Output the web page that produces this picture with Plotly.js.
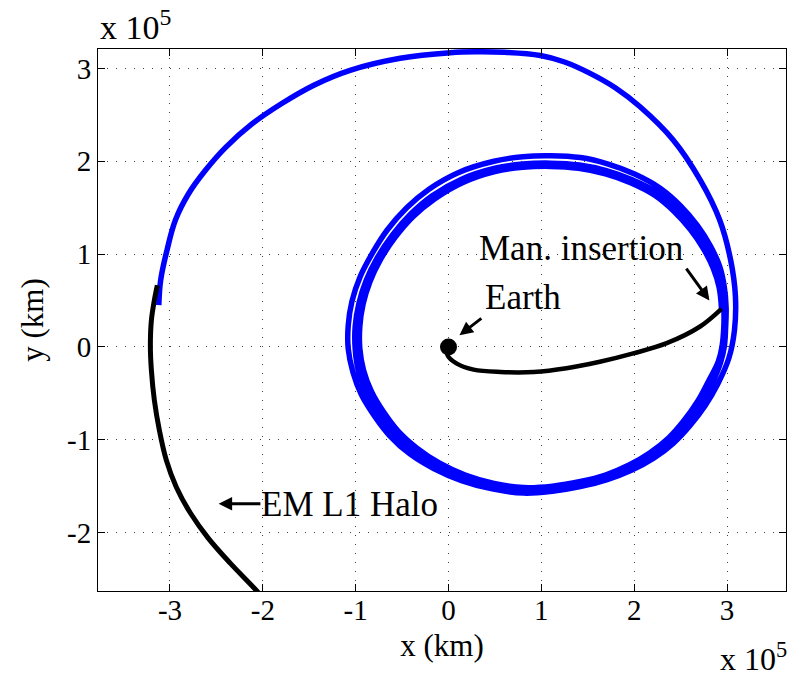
<!DOCTYPE html>
<html>
<head>
<meta charset="utf-8">
<script src="https://cdn.plot.ly/plotly-3.0.1.min.js"></script>
<style>html,body{margin:0;padding:0;background:#fff;}#chart{width:797px;height:676px;}</style>
</head>
<body>
<div id="chart"></div>
<script>
// Units: 10^5 km
var haloX = [-2.005, -2.062, -2.351, -2.588, -2.780, -2.931, -3.039, -3.114, -3.168, -3.200, -3.211, -3.200, -3.168, -3.136];
var haloY = [-2.70, -2.632, -2.330, -2.060, -1.790, -1.513, -1.222, -0.898, -0.575, -0.251, 0.008, 0.288, 0.504, 0.665];

var arcX = [-3.12, -3.10, -3.03, -2.94, -2.80, -2.62, -2.40, -2.12, -1.80, -1.45, -1.06, -0.52, 0.02, 0.30, 0.60, 0.99, 1.25, 1.52, 1.80, 2.06, 2.42, 2.71, 2.92, 3.04, 3.09, 3.08, 3.02];
var arcY = [0.45, 0.72, 1.05, 1.37, 1.65, 1.90, 2.15, 2.40, 2.62, 2.82, 2.98, 3.11, 3.17, 3.18, 3.175, 3.14, 3.07, 2.95, 2.79, 2.59, 2.23, 1.80, 1.37, 0.93, 0.55, 0.18, -0.12];

var loop1X = [2.90, 2.76, 2.60, 2.42, 2.21, 1.97, 1.71, 1.42, 1.12, 0.81, 0.47, 0.14, -0.16, -0.42, -0.63, -0.80, -0.94, -1.03, -1.08, -1.08, -1.04, -0.95, -0.82, -0.66, -0.45, -0.21, 0.11, 0.49, 0.80, 1.10, 1.42, 1.72, 2.01, 2.28, 2.50, 2.68, 2.82, 2.92, 2.97, 2.99, 2.985, 2.97, 2.93];
var loop1Y = [-0.40, -0.64, -0.85, -1.04, -1.20, -1.33, -1.43, -1.505, -1.555, -1.575, -1.53, -1.44, -1.31, -1.15, -0.96, -0.74, -0.51, -0.27, -0.02, 0.23, 0.49, 0.76, 1.01, 1.26, 1.50, 1.70, 1.88, 2.00, 2.05, 2.06, 2.04, 1.97, 1.86, 1.71, 1.52, 1.31, 1.09, 0.87, 0.65, 0.43, 0.21, 0.00, -0.17];
var loop2X = [2.84, 2.715, 2.56, 2.39, 2.19, 1.96, 1.70, 1.42, 1.12, 0.81, 0.48, 0.16, -0.13, -0.38, -0.59, -0.75, -0.88, -0.97, -1.005, -1.005, -0.965, -0.885, -0.765, -0.605, -0.405, -0.175, 0.135, 0.50, 0.80, 1.10, 1.41, 1.70, 1.98, 2.245, 2.455, 2.635, 2.775, 2.885, 2.945, 2.965, 2.965, 2.945, 2.905];
var loop2Y = [-0.39, -0.62, -0.83, -1.02, -1.18, -1.31, -1.42, -1.49, -1.54, -1.555, -1.51, -1.42, -1.29, -1.13, -0.94, -0.73, -0.50, -0.26, -0.02, 0.22, 0.47, 0.72, 0.965, 1.205, 1.435, 1.63, 1.805, 1.925, 1.97, 1.98, 1.96, 1.90, 1.80, 1.665, 1.485, 1.285, 1.075, 0.855, 0.645, 0.43, 0.21, 0.00, -0.16];
var loop3X = [2.80, 2.68, 2.53, 2.37, 2.17, 1.95, 1.69, 1.42, 1.12, 0.81, 0.49, 0.18, -0.10, -0.34, -0.54, -0.70, -0.83, -0.915, -0.955, -0.955, -0.92, -0.845, -0.73, -0.575, -0.38, -0.15, 0.15, 0.50, 0.80, 1.10, 1.40, 1.69, 1.96, 2.22, 2.43, 2.605, 2.745, 2.85, 2.915, 2.94];
var loop3Y = [-0.37, -0.59, -0.80, -0.98, -1.14, -1.27, -1.38, -1.45, -1.50, -1.515, -1.47, -1.38, -1.25, -1.09, -0.91, -0.70, -0.48, -0.25, -0.02, 0.22, 0.46, 0.705, 0.945, 1.18, 1.405, 1.595, 1.77, 1.89, 1.935, 1.945, 1.925, 1.865, 1.77, 1.635, 1.46, 1.265, 1.06, 0.85, 0.64, 0.41];

var transferX = [2.94, 2.71, 2.35, 1.99, 1.63, 1.27, 0.92, 0.56, 0.27, 0.09, -0.01, 0.00];
var transferY = [0.41, 0.22, 0.04, -0.07, -0.16, -0.23, -0.27, -0.27, -0.245, -0.18, -0.09, 0.00];

var earthX = [0];
var earthY = [0];

var tickVals = [-3, -2, -1, 0, 1, 2, 3];
var tickText = ['-3', '-2', '-1', '0', '1', '2', '3'];

var blueX = arcX.concat(loop1X, loop2X, loop3X);
var blueY = arcY.concat(loop1Y, loop2Y, loop3Y);

var FONT = 'Liberation Serif, Times New Roman, serif';

var traces = [
  {x: blueX, y: blueY, mode: 'lines', line: {color: '#0000ff', width: 5.5, shape: 'spline', smoothing: 1.1}, hoverinfo: 'skip'},
  {x: haloX, y: haloY, mode: 'lines', line: {color: '#000', width: 5, shape: 'spline', smoothing: 1}, hoverinfo: 'skip'},
  {x: transferX, y: transferY, mode: 'lines', line: {color: '#000', width: 4.5, shape: 'spline', smoothing: 1}, hoverinfo: 'skip'},
  {x: earthX, y: earthY, mode: 'markers', marker: {color: '#000', size: 17}, hoverinfo: 'skip'}
];

function axis(range, titleText, standoff, labelStandoff) {
  return {
    range: range, autorange: false,
    tickvals: tickVals, ticktext: tickText,
    ticks: 'inside', ticklen: 7, tickwidth: 1, tickcolor: '#000',
    ticklabelstandoff: labelStandoff,
    showline: true, linecolor: '#000', linewidth: 1, mirror: 'ticks',
    showgrid: true, gridcolor: 'rgba(0,0,0,0.75)', gridwidth: 1, griddash: '1px,8px',
    zeroline: false,
    tickfont: {family: FONT, size: 29, color: '#000'},
    title: {text: titleText, font: {family: FONT, size: 31, color: '#000'}, standoff: standoff},
    automargin: false
  };
}

var arrowStyle = {showarrow: true, arrowhead: 2, arrowsize: 0.9, arrowwidth: 3, arrowcolor: '#000', axref: 'x', ayref: 'y', text: '', standoff: 0, startstandoff: 0};

var layout = {
  width: 797, height: 676,
  margin: {l: 98, r: 11, t: 49, b: 85},
  paper_bgcolor: '#fff', plot_bgcolor: '#fff',
  showlegend: false,
  xaxis: axis([-3.775, 3.635], 'x (km)', 9, -7),
  yaxis: axis([-2.63, 3.21], 'y (km)', 14, 0),
  annotations: [
    Object.assign({}, arrowStyle, {x: 2.81, y: 0.50, ax: 2.55, ay: 0.86}),
    Object.assign({}, arrowStyle, {x: 0.118, y: 0.126, ax: 0.37, ay: 0.32}),
    Object.assign({}, arrowStyle, {x: -2.476, y: -1.69, ax: -2.01, ay: -1.69}),
    {x: 1.43, y: 1.06, text: 'Man. insertion', showarrow: false, font: {family: FONT, size: 35, color: '#000'}},
    {x: 0.80, y: 0.535, text: 'Earth', showarrow: false, font: {family: FONT, size: 35, color: '#000'}},
    {x: -1.07, y: -1.70, text: 'EM L1 Halo', showarrow: false, font: {family: FONT, size: 35, color: '#000'}},
    {xref: 'paper', yref: 'paper', x: 0, y: 1, xanchor: 'left', yanchor: 'bottom', yshift: 1, text: 'x 10<sup>5</sup>', showarrow: false, font: {family: FONT, size: 34, color: '#000'}},
    {xref: 'paper', yref: 'paper', x: 1, y: 0, xanchor: 'right', yanchor: 'top', xshift: 3, yshift: -44, text: 'x 10<sup>5</sup>', showarrow: false, font: {family: FONT, size: 32, color: '#000'}}
  ]
};

Plotly.newPlot('chart', traces, layout, {staticPlot: true, displayModeBar: false});
</script>
</body>
</html>
